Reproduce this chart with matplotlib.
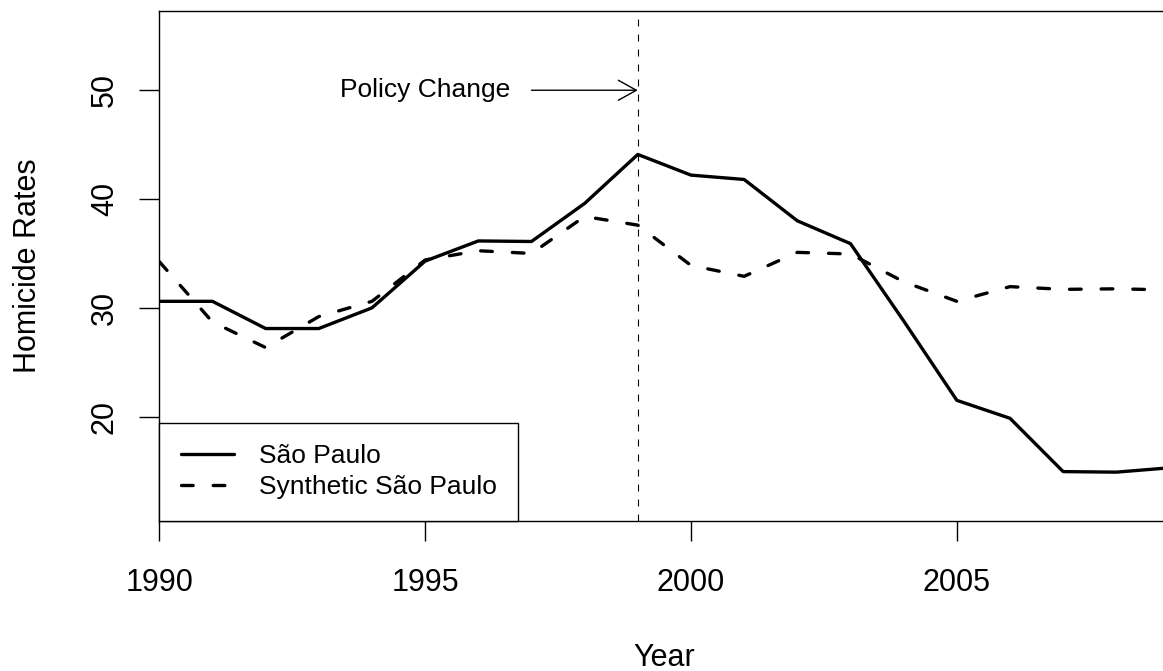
import matplotlib
matplotlib.use("Agg")
import matplotlib.pyplot as plt

plt.rcParams['font.family'] = ['Liberation Sans', 'DejaVu Sans']
plt.rcParams['lines.scale_dashes'] = False

# homicide rates per 100k, observed vs synthetic control
years = list(range(1990, 2010))
sao_paulo = [30.6, 30.6, 28.1, 28.1, 30.0, 34.3, 36.15, 36.1, 39.6, 44.1,
             42.2, 41.8, 38.0, 35.9, 28.8, 21.5, 19.85, 14.95, 14.9, 15.3]
synthetic = [34.25, 28.7, 26.35, 29.2, 30.6, 34.4, 35.25, 35.0, 38.4, 37.6,
             33.9, 32.9, 35.1, 34.95, 32.4, 30.6, 31.95, 31.7, 31.75, 31.65]
treat_year = 1999
x_ticks = [1990, 1995, 2000, 2005]
y_ticks = [20, 30, 40, 50]

W, H = 1163, 671
fig = plt.figure(figsize=(W / 100, H / 100), dpi=100)
# plot region runs a bit past the right edge of the figure
left, right, top, bottom = 159.3, 1169.5, 10.5, 521.0
ax = fig.add_axes([left / W, 1 - bottom / H, (right - left) / W, (bottom - top) / H])

ax.plot(years, sao_paulo, color='black', lw=2.4, solid_joinstyle='round',
        solid_capstyle='round', label='São Paulo')
ax.plot(years, synthetic, color='black', lw=2.4, ls=(0, (8.4, 14.4)),
        dash_capstyle='round', dash_joinstyle='round', label='Synthetic São Paulo')
ax.axvline(treat_year, color='black', lw=0.8, ls=(0, (5.0, 5.8)))

ax.annotate('', xy=(treat_year, 50), xytext=(1997, 50),
            arrowprops=dict(arrowstyle='->,head_length=0.65,head_width=0.36',
                            lw=1.0, color='black', shrinkA=0, shrinkB=0,
                            mutation_scale=20))
ax.text(1995, 50, 'Policy Change', ha='center', va='center', fontsize=19)

ax.set_xlim(1990, 2009)
ax.set_ylim(10.41, 57.33)
ax.set_xticks(x_ticks)
ax.set_xticklabels([str(v) for v in x_ticks], fontsize=22)
ax.set_yticks(y_ticks)
ax.set_yticklabels([str(v) for v in y_ticks], fontsize=22, rotation=90, va='center')
ax.tick_params(axis='both', direction='out', length=14.4, width=1.0, color='black')
ax.tick_params(axis='x', pad=19.5)
ax.tick_params(axis='y', pad=14.0)
for s in ax.spines.values():
    s.set_linewidth(1.0)
    s.set_color('black')

ax.set_xlabel('Year', fontsize=22)
ax.xaxis.set_label_coords(0.5, (bottom - 643.3) / (bottom - top))
ax.set_ylabel('Homicide Rates', fontsize=22)
ax.yaxis.set_label_coords((43.5 - left) / (right - left), 0.5)

leg = ax.legend(loc='lower left', fontsize=19, frameon=True, fancybox=False,
                edgecolor='black', framealpha=1, borderaxespad=0,
                borderpad=0.82, handlelength=2.0, handletextpad=0.95,
                labelspacing=0.27)
leg.get_frame().set_linewidth(1.0)

fig.savefig('out.png', dpi=100)
